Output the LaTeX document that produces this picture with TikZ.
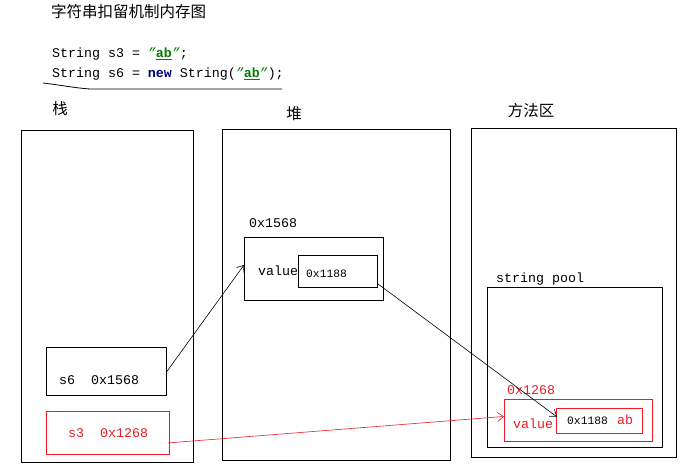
\documentclass[tikz,border=0pt]{standalone}
\usepackage{fontspec}
\setmonofont{Liberation Mono}
\newfontfamily\cjk{Noto Sans CJK SC}
\usetikzlibrary{arrows.meta,calc}
\definecolor{codegreen}{RGB}{0,128,0}
\definecolor{codenavy}{RGB}{0,0,128}
\definecolor{memred}{RGB}{237,28,36}
\tikzset{
  box/.style={draw=black, line width=0.9pt, inner sep=0pt, anchor=north west},
  redbox/.style={box, draw=memred},
  txt/.style={inner sep=0pt, anchor=base west, font=\ttfamily\fontsize{13.3}{15}\selectfont},
  smalltxt/.style={txt, font=\ttfamily\fontsize{11.3}{13}\selectfont},
  cjklabel/.style={inner sep=0pt, font=\cjk\fontsize{15.5}{17}\selectfont},
  link/.style={line width=0.6pt, -{Straight Barb[length=6pt,width=9pt,line width=0.6pt]}},
}
\begin{document}
\begin{tikzpicture}[x=1pt,y=-1pt]
\useasboundingbox (0,0) rectangle (688,473);

% title and code
\node[cjklabel, anchor=west] (title) at (51,12) {字符串扣留机制内存图};
\node[txt] (code1) at (52,58) {String s3 = \textcolor{codegreen}{\textit{”}\underline{\textbf{ab}}\textit{”}};};
\node[txt] (code2) at (52,78) {String s6 = \textcolor{codenavy}{\textbf{new}} String(\textcolor{codegreen}{\textit{”}\underline{\textbf{ab}}\textit{”}});};
\draw[line width=0.8pt] (43,83) .. controls (60,85) and (75,88) .. (90,89) -- (282,89);

% area labels
\node[cjklabel] (lstack) at (60,109) {栈};
\node[cjklabel] (lheap) at (294,114) {堆};
\node[cjklabel] (lmethod) at (531,111) {方法区};

% big areas
\node[box, minimum width=172, minimum height=332] (stack) at (21,130) {};
\node[box, minimum width=228, minimum height=331] (heap) at (222,129) {};
\node[box, minimum width=205, minimum height=329] (method) at (471,128) {};

% stack frames
\node[box, minimum width=120, minimum height=48] (s6) at (46,347) {};
\node[txt] (s6t) at (59,384) {s6\ \ 0x1568};
\node[redbox, minimum width=123, minimum height=43] (s3) at (46,411) {};
\node[txt, text=memred] (s3t) at (68,437) {s3\ \ 0x1268};

% heap object
\node[txt] (hobjaddr) at (249,228) {0x1568};
\node[box, minimum width=139, minimum height=63] (hobj) at (244,237) {};
\node[txt] (hval) at (258,276) {value};
\node[box, minimum width=79, minimum height=32] (hin) at (298,255) {};
\node[smalltxt] (hint) at (306,277) {0x1188};

% string pool
\node[txt] (pooll) at (496,282) {string pool};
\node[box, minimum width=175, minimum height=160] (pool) at (487,287) {};
\node[txt, text=memred] (paddr) at (507,394) {0x1268};
\node[redbox, minimum width=148, minimum height=42] (pobj) at (504,399) {};
\node[txt, text=memred] (pval) at (513,428) {value};
\node[redbox, minimum width=86, minimum height=25] (pin) at (556,408) {};
\node[smalltxt] (pint) at (567,424) {0x1188};
\node[txt, text=memred] (pab) at (617,424) {ab};

% connectors
\draw[link] (s6.east) -- ($(hobj.west)+(0,-4)$);
\draw[link] ($(hin.south east)+(0,-4)$) -- ($(pin.west)+(1,-4)$);
\draw[link, draw=memred] ($(s3.east)+(-2,10)$) -- ($(pobj.west)+(0,-4)$);
\end{tikzpicture}
\end{document}
